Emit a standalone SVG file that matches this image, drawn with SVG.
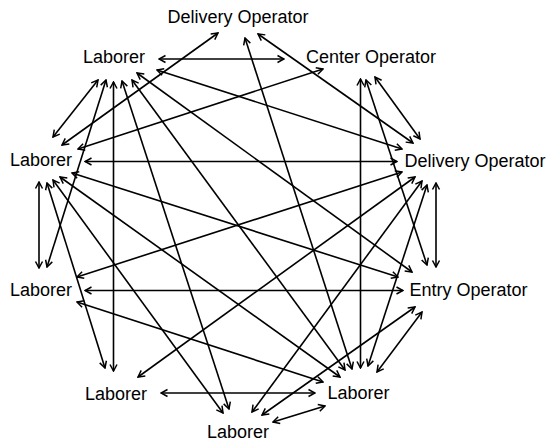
<svg xmlns="http://www.w3.org/2000/svg" width="552" height="446" viewBox="0 0 552 446">
  <style>
    .lbl { font-family: "Liberation Sans", Arial, sans-serif; font-size: 18px; fill: #000; text-anchor: middle; }
    .edge { stroke: #000; stroke-width: 1.6; fill: none; marker-start: url(#tip); marker-end: url(#tip); }
  </style>
  <defs>
    <marker id="tip" viewBox="0 0 10 10" refX="9" refY="5" markerWidth="10" markerHeight="10" markerUnits="userSpaceOnUse" orient="auto-start-reverse">
      <path d="M2.5,1.5 L9,5 L2.5,8.5" fill="none" stroke="#000" stroke-width="1.5"/>
    </marker>
  </defs>
  <rect width="552" height="446" fill="#fff"/>

  <g id="connectors">
    <!-- Delivery Operator (top) -->
    <line class="edge" x1="218" y1="33" x2="62" y2="145"/>
    <line class="edge" x1="245" y1="38" x2="352" y2="369"/>
    <line class="edge" x1="258" y1="34" x2="413" y2="143"/>
    <!-- Laborer (top left) -->
    <line class="edge" x1="159" y1="59" x2="284" y2="59"/>
    <line class="edge" x1="98" y1="80" x2="53" y2="137"/>
    <line class="edge" x1="106" y1="80" x2="47" y2="267"/>
    <line class="edge" x1="113.5" y1="82" x2="113.5" y2="371"/>
    <line class="edge" x1="122" y1="81" x2="229" y2="409"/>
    <line class="edge" x1="132" y1="80" x2="345" y2="370"/>
    <line class="edge" x1="137" y1="73" x2="412" y2="272"/>
    <line class="edge" x1="157" y1="70" x2="402" y2="149"/>
    <!-- Center Operator -->
    <line class="edge" x1="323" y1="69" x2="78" y2="149"/>
    <line class="edge" x1="360.5" y1="79" x2="360.5" y2="368"/>
    <line class="edge" x1="366" y1="80" x2="427" y2="265"/>
    <line class="edge" x1="375" y1="77" x2="420" y2="139"/>
    <!-- Laborer (left, upper) -->
    <line class="edge" x1="85" y1="161.5" x2="397" y2="161.5"/>
    <line class="edge" x1="72" y1="173" x2="398" y2="277"/>
    <line class="edge" x1="60" y1="177" x2="340" y2="377"/>
    <line class="edge" x1="53" y1="180" x2="223" y2="413"/>
    <line class="edge" x1="47" y1="183" x2="105" y2="368"/>
    <line class="edge" x1="39" y1="182" x2="39" y2="268"/>
    <!-- Laborer (left, lower) -->
    <line class="edge" x1="77" y1="277" x2="402" y2="172"/>
    <line class="edge" x1="85" y1="290.5" x2="403" y2="290.5"/>
    <line class="edge" x1="77" y1="302" x2="323" y2="382"/>
    <!-- Delivery Operator (right) -->
    <line class="edge" x1="415" y1="177" x2="138" y2="377"/>
    <line class="edge" x1="422" y1="181" x2="252" y2="412"/>
    <line class="edge" x1="427" y1="185" x2="368" y2="366"/>
    <line class="edge" x1="436" y1="183" x2="436" y2="267"/>
    <!-- Entry Operator -->
    <line class="edge" x1="415" y1="307" x2="262" y2="415"/>
    <line class="edge" x1="422" y1="312" x2="377" y2="372"/>
    <!-- bottom row -->
    <line class="edge" x1="161" y1="393" x2="315" y2="393"/>
    <line class="edge" x1="273" y1="422" x2="325" y2="406"/>
  </g>

  <g id="delivery-operator-top"><text class="lbl" x="238" y="23">Delivery Operator</text></g>
  <g id="laborer-top-left"><text class="lbl" x="114" y="63">Laborer</text></g>
  <g id="center-operator"><text class="lbl" x="371" y="63">Center Operator</text></g>
  <g id="laborer-left-upper"><text class="lbl" x="41" y="166">Laborer</text></g>
  <g id="delivery-operator-right"><text class="lbl" x="475" y="167">Delivery Operator</text></g>
  <g id="laborer-left-lower"><text class="lbl" x="41" y="296">Laborer</text></g>
  <g id="entry-operator"><text class="lbl" x="468.5" y="296">Entry Operator</text></g>
  <g id="laborer-bottom-left"><text class="lbl" x="116" y="400">Laborer</text></g>
  <g id="laborer-bottom-right"><text class="lbl" x="358.5" y="399">Laborer</text></g>
  <g id="laborer-bottom"><text class="lbl" x="238" y="438">Laborer</text></g>
</svg>
